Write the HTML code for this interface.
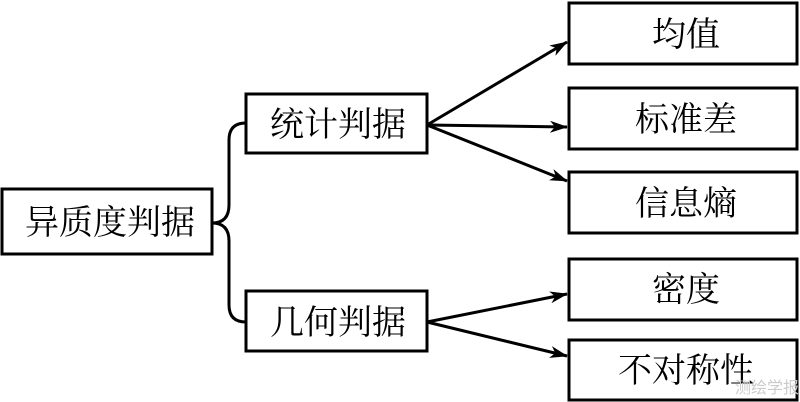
<!DOCTYPE html>
<html><head><meta charset="utf-8"><style>
html,body{margin:0;padding:0;background:#fff;width:800px;height:402px;overflow:hidden}
</style></head><body>
<svg width="800" height="402" xmlns="http://www.w3.org/2000/svg" style="font-family:'Liberation Serif','Noto Serif CJK SC','Noto Sans CJK SC',serif">
<defs><marker id="a" markerWidth="18" markerHeight="12" refX="17" refY="6" orient="auto" markerUnits="userSpaceOnUse" viewBox="0 0 18 12"><path d="M0,0 L18,6 L0,12 L5,6 Z" fill="#000"/></marker>
</defs>
<g fill="none" stroke="#000" stroke-width="3">
<rect x="2" y="189" width="210" height="65"/>
<rect x="246" y="94" width="181" height="59"/>
<rect x="246" y="291" width="181" height="60"/>
<rect x="569" y="3" width="228" height="61"/>
<rect x="569" y="88" width="228" height="61"/>
<rect x="569" y="172" width="228" height="61"/>
<rect x="569" y="259" width="228" height="61"/>
<rect x="569" y="340" width="228" height="60"/>
<path d="M212,223 Q229,223 229,205 L229,140 Q229,123 246,123"/>
<path d="M212,223 Q229,223 229,241 L229,305 Q229,322 246,322"/>
</g>
<g stroke="#000" stroke-width="3" marker-end="url(#a)">
<line x1="427" y1="125" x2="567" y2="42"/>
<line x1="427" y1="125" x2="567" y2="127"/>
<line x1="427" y1="125" x2="567" y2="181"/>
<line x1="427" y1="322" x2="567" y2="294"/>
<line x1="427" y1="322" x2="567" y2="356"/>
</g>
<g font-size="34" text-anchor="middle" fill="#000">
<text x="110" y="234">异质度判据</text>
<text x="338" y="136">统计判据</text>
<text x="338" y="334">几何判据</text>
<text x="686" y="46">均值</text>
<text x="686" y="131">标准差</text>
<text x="686" y="215">信息熵</text>
<text x="686" y="301">密度</text>
<text x="686" y="382">不对称性</text>
</g>
<text x="767" y="393" font-size="16" fill="#ccc" text-anchor="middle" font-family="'Liberation Sans','Noto Sans CJK SC',sans-serif">测绘学报</text>
</svg>
</body></html>
